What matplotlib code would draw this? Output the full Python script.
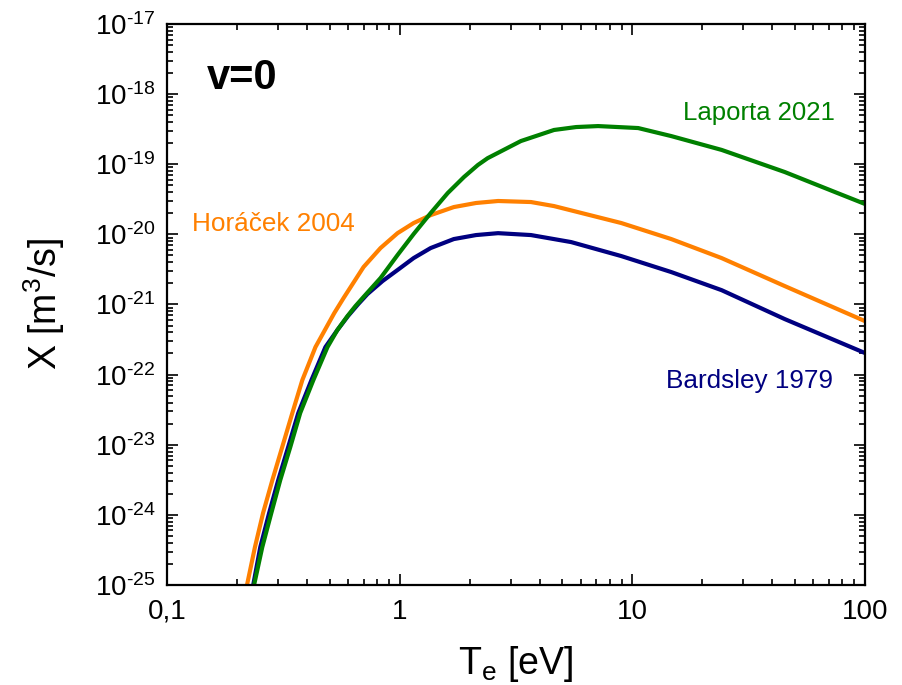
import numpy as np
import matplotlib
matplotlib.use("Agg")
import matplotlib.pyplot as plt
from matplotlib.ticker import FixedLocator, LogLocator, NullFormatter

plt.rcParams['font.family'] = ['Liberation Sans', 'DejaVu Sans']
plt.rcParams['mathtext.fontset'] = 'custom'
plt.rcParams['mathtext.rm'] = 'Liberation Sans'
plt.rcParams['mathtext.it'] = 'Liberation Sans:italic'
plt.rcParams['axes.unicode_minus'] = False

# Bardsley 1979
te_bard = [0.235, 0.252, 0.275, 0.301, 0.332, 0.367, 0.418, 0.480, 0.540,
           0.600, 0.662, 0.728, 0.845, 0.980, 1.149, 1.36, 1.71, 2.13, 2.65,
           3.67, 5.46, 8.97, 14.7, 24.2, 45.2, 100]
x_bard = [1.0e-25, 3.46e-25, 1.06e-24, 3.13e-24, 9.24e-24, 2.83e-23, 8.35e-23,
          2.47e-22, 4.31e-22, 6.83e-22, 1.0e-21, 1.41e-21, 2.16e-21, 3.10e-21,
          4.59e-21, 6.38e-21, 8.57e-21, 9.77e-21, 1.04e-20, 9.77e-21, 7.76e-21,
          4.90e-21, 2.90e-21, 1.60e-21, 6.19e-22, 2.03e-22]

# Horacek 2004
te_hor = [0.221, 0.239, 0.259, 0.284, 0.313, 0.346, 0.382, 0.435, 0.524,
          0.574, 0.700, 0.828, 0.980, 1.149, 1.36, 1.71, 2.13, 2.65, 3.67,
          4.61, 8.97, 14.7, 24.2, 45.2, 100]
x_hor = [1.0e-25, 3.46e-25, 1.06e-24, 3.13e-24, 9.24e-24, 2.83e-23, 8.35e-23,
         2.47e-22, 7.54e-22, 1.23e-21, 3.42e-21, 6.38e-21, 1.04e-20, 1.45e-20,
         1.88e-20, 2.45e-20, 2.80e-20, 2.99e-20, 2.89e-20, 2.53e-20, 1.45e-20,
         8.57e-21, 4.59e-21, 1.83e-21, 5.79e-22]

# Laporta 2021
te_lap = [0.237, 0.257, 0.281, 0.307, 0.339, 0.374, 0.426, 0.490, 0.540,
          0.597, 0.646, 0.700, 0.828, 0.980, 1.149, 1.36, 1.61, 1.89, 2.17,
          2.39, 3.32, 4.61, 5.74, 7.13, 10.6, 14.7, 24.2, 45.2, 74.3, 100]
x_lap = [1.0e-25, 3.46e-25, 1.06e-24, 3.13e-24, 9.24e-24, 2.83e-23, 8.35e-23,
         2.47e-22, 4.31e-22, 6.83e-22, 9.48e-22, 1.28e-21, 2.38e-21, 5.07e-21,
         1.01e-20, 2.01e-20, 3.88e-20, 6.56e-20, 9.75e-20, 1.22e-19, 2.14e-19,
         3.08e-19, 3.39e-19, 3.5e-19, 3.28e-19, 2.52e-19, 1.60e-19, 7.74e-20,
         4.01e-20, 2.71e-20]

xticks = [0.1, 1, 10, 100]
xtick_labels = ['0,1', '1', '10', '100']
ydecades = np.arange(-25, -16)

c_bard = '#000080'
c_hor = '#ff8000'
c_lap = '#008000'

fig = plt.figure(figsize=(9.02, 6.85), dpi=100)
ax = fig.add_axes([0.185, 0.146, 0.774, 0.819])

kw = dict(lw=3, solid_joinstyle='round', solid_capstyle='butt')
ax.plot(te_bard, x_bard, color=c_bard, **kw)
ax.plot(te_hor, x_hor, color=c_hor, **kw)
ax.plot(te_lap, x_lap, color=c_lap, **kw)

ax.set_xscale('log')
ax.set_yscale('log')
ax.set_xlim(0.1, 100)
ax.set_ylim(1e-25, 1e-17)

ax.xaxis.set_major_locator(FixedLocator(xticks))
ax.set_xticklabels(xtick_labels)
ax.xaxis.set_minor_locator(LogLocator(base=10, subs=np.arange(2, 10)))
ax.xaxis.set_minor_formatter(NullFormatter())

ax.yaxis.set_major_locator(FixedLocator([10.0 ** d for d in ydecades]))
ax.set_yticklabels([r'$\mathregular{10^{\text{-}%d}}$' % (-d) for d in ydecades])
ax.yaxis.set_minor_locator(LogLocator(base=10, subs=np.arange(2, 10), numticks=20))
ax.yaxis.set_minor_formatter(NullFormatter())

ax.tick_params(which='both', direction='in', top=True, right=True, width=1.2)
ax.tick_params(which='major', length=8, labelsize=20)
ax.tick_params(axis='x', which='major', pad=10)
ax.tick_params(axis='y', which='major', pad=8)
ax.tick_params(which='minor', length=4.5)
for s in ax.spines.values():
    s.set_linewidth(1.6)

ax.set_xlabel(r'T$_\mathregular{e}$ [eV]', fontsize=27)
ax.set_ylabel(r'X [m$^\mathregular{3}$/s]', fontsize=27)
ax.xaxis.set_label_coords(0.5, -0.105)
ax.yaxis.set_label_coords(-0.143, 0.5)

ax.text(0.149, 10 ** -17.77, 'v=0', fontsize=30, fontweight='bold', va='center')
ax.text(74.3, 10 ** -18.27, 'Laporta 2021', color=c_lap, fontsize=18.5,
        ha='right', va='center')
ax.text(0.128, 10 ** -19.85, 'Horáček 2004', color=c_hor, fontsize=18.8,
        ha='left', va='center')
ax.text(14.0, 10 ** -22.09, 'Bardsley 1979', color=c_bard, fontsize=18.8,
        ha='left', va='center')

fig.savefig('out.png', dpi=100)
